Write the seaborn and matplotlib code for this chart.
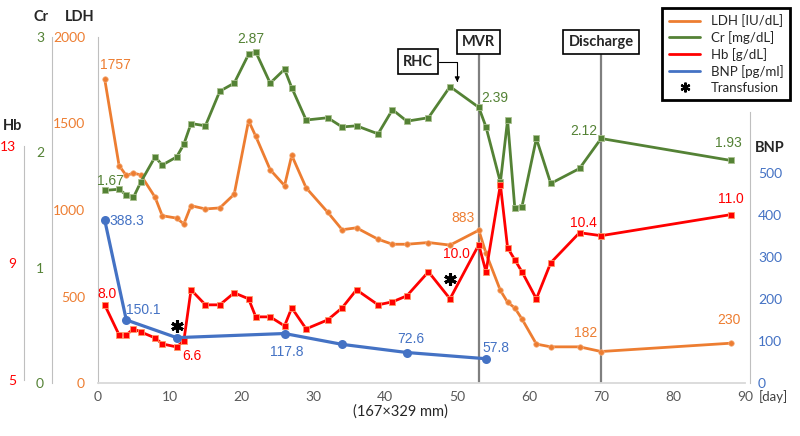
import matplotlib
matplotlib.use("Agg")
import matplotlib.pyplot as plt
from matplotlib.lines import Line2D
import seaborn as sns

# hospital day of each lab draw
days = [1, 3, 4, 5, 6, 8, 9, 11, 12, 13, 15, 17, 19, 21, 22, 24, 26, 27, 29, 32,
        34, 36, 39, 41, 43, 46, 49, 53, 54, 56, 57, 58, 59, 61, 63, 67, 70, 88]
ldh = [1757, 1256, 1200, 1213, 1203, 1074, 967, 953, 919, 1025, 1006, 1012, 1091,
       1516, 1426, 1233, 1141, 1316, 1128, 987, 886, 897, 831, 802, 802, 812, 797,
       883, 750, 535, 467, 434, 370, 225, 209, 209, 182, 230]
cr = [1.67, 1.68, 1.63, 1.61, 1.74, 1.96, 1.89, 1.96, 2.07, 2.25, 2.23, 2.53, 2.60,
      2.85, 2.87, 2.60, 2.72, 2.56, 2.28, 2.30, 2.22, 2.23, 2.16, 2.37, 2.27, 2.30,
      2.57, 2.39, 2.22, 1.74, 2.28, 1.52, 1.53, 2.12, 1.73, 1.86, 2.12, 1.93]
hb = [8.0, 7.0, 7.0, 7.2, 7.1, 6.9, 6.7, 6.6, 6.8, 8.5, 8.0, 8.0, 8.4, 8.2, 7.6,
      7.6, 7.3, 7.9, 7.2, 7.5, 7.9, 8.5, 8.0, 8.1, 8.3, 9.1, 8.2, 10.0, 9.1, 12.0,
      9.9, 9.5, 9.1, 8.2, 9.4, 10.4, 10.3, 11.0]
bnp_days = [1, 4, 11, 26, 34, 43, 54]
bnp = [388.3, 150.1, 108.0, 117.8, 92.0, 72.6, 57.8]

event_days = [53, 70]
event_names = ["MVR", "Discharge"]
rhc_day = 50
transfusion_days = [11, 49]
transfusion_hb = [7.3, 8.85]

ldh_label_days = [1, 53, 70, 88]
cr_label_days = [1, 22, 53, 70, 88]
hb_label_days = [1, 11, 53, 67, 88]
bnp_label_days = [1, 4, 26, 43, 54]

ORANGE = "#ED7D31"
GREEN = "#548235"
RED = "#FF0000"
BLUE = "#4472C4"
GRAY = "#BFBFBF"

sns.set_style("white")
plt.rcParams["font.family"] = ["Lato", "DejaVu Sans"]

W, H = 800, 436
L, R, B, T = 97.5, 745, 383, 37
PT = 0.72  # points per pixel at dpi 100

fig = plt.figure(figsize=(8, 4.36), dpi=100)
ax = fig.add_axes([L / W, 1 - B / H, (R - L) / W, (B - T) / H])

ax_cr = ax.twinx()
ax_hbt = ax.twinx()
ax_hb = ax.twinx()
ax_bnp = ax.twinx()

# LDH (main axis)
ax.set_xlim(0, 90)
ax.set_ylim(0, 2000)
ax.set_xticks(range(0, 91, 10))
ax.set_yticks(range(0, 2001, 500))
ax.tick_params(axis="x", length=0, pad=6, labelsize=10, labelcolor="#595959")
ax.tick_params(axis="y", length=0, pad=9, labelsize=10, labelcolor=ORANGE)
for s in ["top", "right"]:
    ax.spines[s].set_visible(False)
ax.spines["left"].set_color(GRAY)
ax.spines["bottom"].set_color("#D9D9D9")
ax.spines["bottom"].set_linewidth(1.3)


def left_axis(a, lim, ticks, color, offset_px, bounds=None):
    a.set_ylim(*lim)
    a.yaxis.tick_left()
    for s in ["top", "right", "bottom"]:
        a.spines[s].set_visible(False)
    a.spines["left"].set_visible(True)
    a.spines["left"].set_position(("outward", offset_px * PT))
    a.spines["left"].set_color(GRAY)
    if bounds:
        a.spines["left"].set_bounds(*bounds)
    a.set_yticks(ticks)
    a.tick_params(axis="y", length=0, pad=5.8, labelsize=10, labelcolor=color)


left_axis(ax_cr, (0, 3), [0, 1, 2, 3], GREEN, L - 52)
left_axis(ax_hbt, (4.90, 16.73), [5, 9, 13], RED, L - 24, bounds=(5, 13))
ax_hb.set_ylim(5.40, 16.91)
ax_hb.set_axis_off()

ax_bnp.set_ylim(0, 823.8)
for s in ["top", "left", "bottom"]:
    ax_bnp.spines[s].set_visible(False)
ax_bnp.spines["right"].set_position(("outward", 5 * PT))
ax_bnp.spines["right"].set_color(GRAY)
ax_bnp.spines["right"].set_bounds(0, 645)
ax_bnp.set_yticks(range(0, 501, 100))
ax_bnp.tick_params(axis="y", length=0, pad=5.8, labelsize=10, labelcolor=BLUE)

# series
sns.lineplot(x=days, y=ldh, ax=ax, color=ORANGE, lw=2, marker="o", ms=4,
             mec="#F4B183", mew=0.5, zorder=3)
sns.lineplot(x=days, y=cr, ax=ax_cr, color=GREEN, lw=2, marker="s", ms=3.8,
             mec="#A9C08F", mew=0.6, zorder=3)
sns.lineplot(x=days, y=hb, ax=ax_hb, color=RED, lw=2, marker="s", ms=3.8,
             mec="#FF9966", mew=0.6, zorder=3)
sns.lineplot(x=bnp_days, y=bnp, ax=ax_bnp, color=BLUE, lw=2.3, marker="o", ms=6.5,
             mec=BLUE, mew=0, zorder=3)
for a in [ax_cr, ax_hbt, ax_hb, ax_bnp]:
    a.set_ylabel("")
ax.set_xlabel("")
ax.set_ylabel("")

ax_hb.plot(transfusion_days, transfusion_hb, ls="none", marker=(6, 2, 0),
           ms=9, mew=2.2, color="black", zorder=4)


def label(a, xs, ys, day, fmt, dx, dy, color):
    i = list(xs).index(day)
    a.annotate(fmt.format(ys[i]), (xs[i], ys[i]), xytext=(dx, dy),
               textcoords="offset points", ha="center", va="center",
               color=color, fontsize=10, family=["Liberation Sans"])


for d, (dx, dy) in zip(ldh_label_days, [(8, 10), (-11.5, 9), (-11, 13), (-1.5, 16.5)]):
    label(ax, days, ldh, d, "{:.0f}", dx, dy, ORANGE)
for d, (dx, dy) in zip(cr_label_days, [(4, 6.5), (-3.5, 9), (11.7, 7), (-12.7, 5.4), (-1.5, 12.4)]):
    label(ax_cr, days, cr, d, "{:.2f}", dx, dy, GREEN)
for d, (dx, dy) in zip(hb_label_days, [(1.5, 7.5), (11, -6.5), (-16, -6.5), (3, 7), (0.5, 11.5)]):
    label(ax_hb, days, hb, d, "{:.1f}", dx, dy, RED)
for d, (dx, dy) in zip(bnp_label_days, [(16, -0.5), (12.5, 7.5), (1.3, -13.5), (3, 10), (7, 7.5)]):
    label(ax_bnp, bnp_days, bnp, d, "{:.1f}", dx, dy, BLUE)

# events
box = dict(boxstyle="square,pad=0.35", fc="white", ec="black", lw=1.2)
for d, name in zip(event_days, event_names):
    ax.axvline(d, ymin=0, ymax=(B - 55) / (B - T), color="#7F7F7F", lw=1.6, zorder=2)
    ax.text(d, 1971, name, ha="center", va="center", fontsize=10.5,
            fontweight="bold", bbox=box, zorder=5)
ax.annotate("RHC", xy=(rhc_day, 1740), xytext=(44.55, 1858), ha="center", va="center",
            fontsize=10.5, fontweight="bold", bbox=box, zorder=5,
            arrowprops=dict(arrowstyle="-|>", color="black", lw=0.8,
                            connectionstyle="angle,angleA=0,angleB=90,rad=0",
                            shrinkA=0, shrinkB=0, mutation_scale=7))

# axis titles
for txt, x, y in [("Cr", 41, 17), ("LDH", 80, 17), ("Hb", 13, 126), ("BNP", 770, 148)]:
    fig.text(x / W, 1 - y / H, txt, ha="center", va="center", fontsize=10.5,
             fontweight="bold")
fig.text(773 / W, 1 - 397 / H, "[day]", ha="center", va="center", fontsize=9.5,
         color="#404040")
fig.text(400 / W, 1 - 412 / H, "(167×329 mm)", ha="center", va="center",
         fontsize=10.5, color="#262626")

handles = [Line2D([], [], color=ORANGE, lw=2), Line2D([], [], color=GREEN, lw=2),
           Line2D([], [], color=RED, lw=2), Line2D([], [], color=BLUE, lw=2),
           Line2D([], [], ls="none", marker=(6, 2, 0), ms=7, mew=1.6, color="black")]
labels = ["LDH [IU/dL]", "Cr [mg/dL]", "Hb [g/dL]", "BNP [pg/ml]", "Transfusion"]
leg = fig.legend(handles, labels, loc="upper right", bbox_to_anchor=(797 / W, 1 - 1 / H),
                 fontsize=9.5, frameon=True, fancybox=False, framealpha=1,
                 edgecolor="black", handlelength=2.4, handletextpad=0.8,
                 labelspacing=0.3, borderpad=0.5)
leg.get_frame().set_linewidth(2)

fig.savefig("out.png", dpi=100)
